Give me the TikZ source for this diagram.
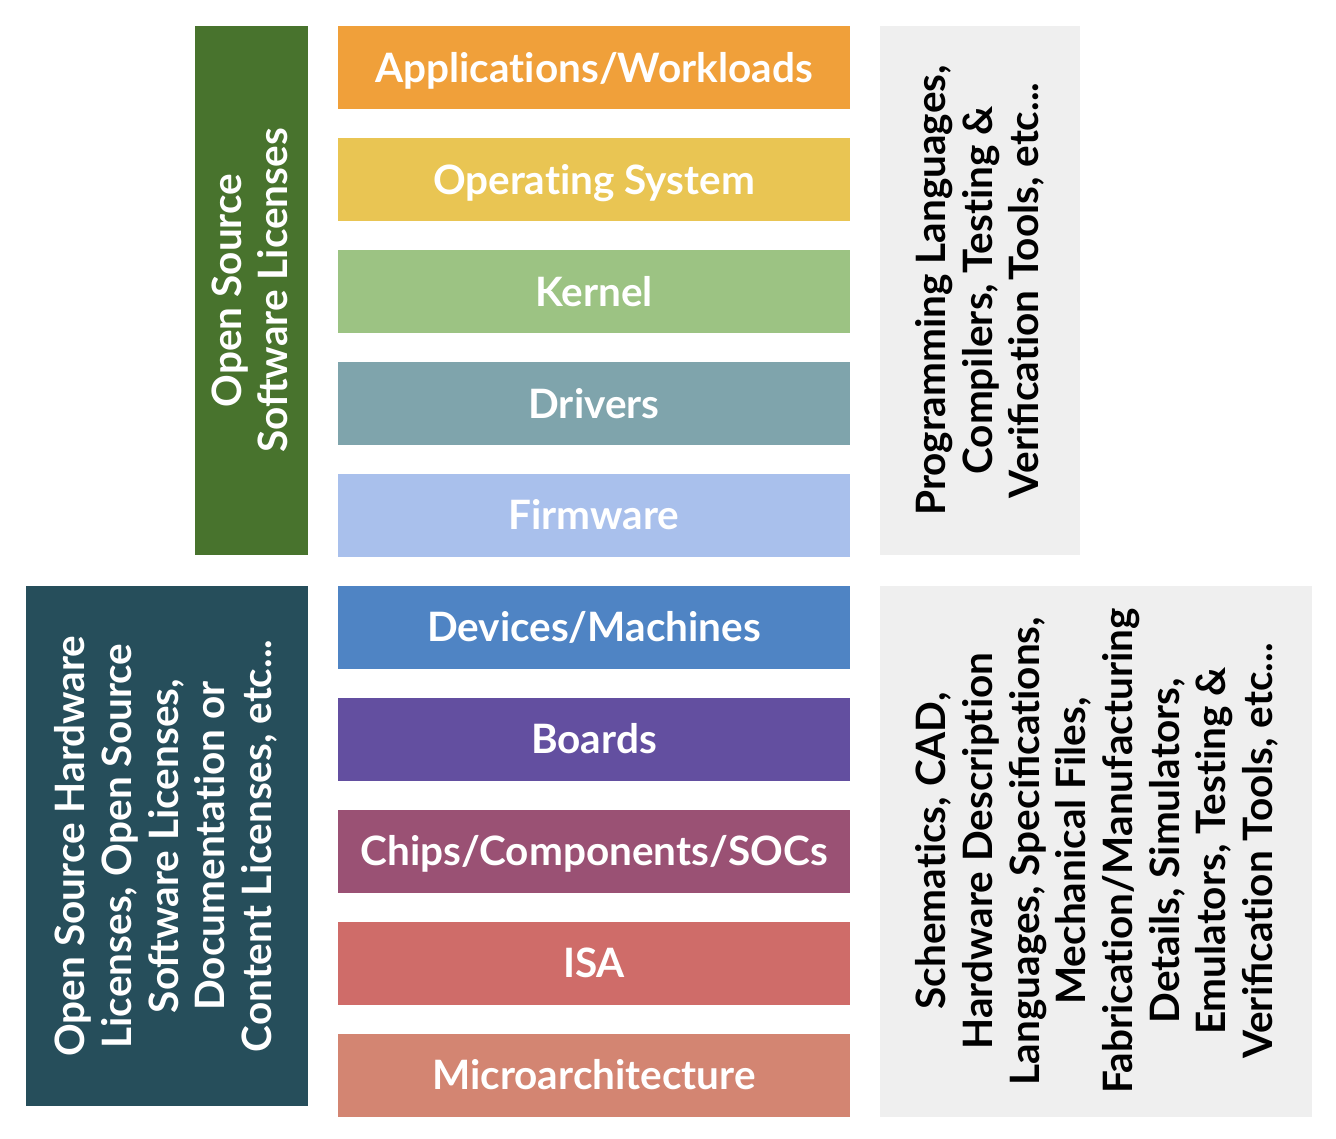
\documentclass[tikz,border=0pt]{standalone}
\usepackage{fontspec}
\setmainfont{Lato}
% t and i set as separate letters (no "ti" ligature); "fi" keeps its ligature
\newcommand\tI{t\kern0pt i}
\begin{document}
\begin{tikzpicture}[x=1pt,y=-1pt,
  layer/.style={rectangle,inner sep=0pt,minimum width=512pt,minimum height=83pt,
    text height=29pt,text depth=0pt,
    text=white,font=\fontsize{40.5}{46}\selectfont\bfseries},
  sidebox/.style={rectangle,inner sep=0pt,align=center,rotate=90,
    font=\fontsize{40.5}{46.7}\selectfont\bfseries}]
\definecolor{cApp}{HTML}{F0A03A}
\definecolor{cOS}{HTML}{E9C553}
\definecolor{cKer}{HTML}{9CC383}
\definecolor{cDrv}{HTML}{7FA4AC}
\definecolor{cFw}{HTML}{A9C0EC}
\definecolor{cDev}{HTML}{4F84C4}
\definecolor{cBrd}{HTML}{634FA0}
\definecolor{cChip}{HTML}{9A5174}
\definecolor{cIsa}{HTML}{CF6C69}
\definecolor{cUarch}{HTML}{D38572}
\definecolor{cSw}{HTML}{48732D}
\definecolor{cHw}{HTML}{264E5B}
\definecolor{cTool}{HTML}{EFEFEF}
\useasboundingbox (0,0) rectangle (1336,1138);
\fill[white] (0,0) rectangle (1336,1138);

% central stack of layers
\node[layer,fill=cApp]   (app)   at (594,67.5)   {Applica\tI ons/Workloads};
\node[layer,fill=cOS]    (os)    at (594,179.5)  {Opera\tI ng System};
\node[layer,fill=cKer]   (ker)   at (594,291.5)  {Kernel};
\node[layer,fill=cDrv]   (drv)   at (594,403.5)  {Drivers};
\node[layer,fill=cFw]    (fw)    at (594,515)    {Firmware};
\node[layer,fill=cDev]   (dev)   at (594,627)    {Devices/Machines};
\node[layer,fill=cBrd]   (brd)   at (594,739)    {Boards};
\node[layer,fill=cChip]  (chip)  at (594,851)    {Chips/Components/SOCs};
\node[layer,fill=cIsa]   (isa)   at (594,963)    {ISA};
\node[layer,fill=cUarch] (uarch) at (594,1075)   {Microarchitecture};

% licence boxes on the left
\fill[cSw] (195,26) rectangle (308,555);
\node[sidebox,text=white] (swlic) at (250,290.5)
  {Open Source\\Software Licenses};
\fill[cHw] (26,586) rectangle (308,1106);
\node[sidebox,text=white] (hwlic) at (166,846)
  {Open Source Hardware\\Licenses, Open Source\\Software Licenses,\\Documenta\tI on or\\Content Licenses, etc...};

% tool boxes on the right
\fill[cTool] (880,26) rectangle (1080,555);
\node[sidebox,text=black] (swtool) at (980,290.5)
  {Programming Languages,\\Compilers, Tes\tI ng \&\\Verifica\tI on Tools, etc...};
\fill[cTool] (880,586) rectangle (1312,1117);
\node[sidebox,text=black] (hwtool) at (1097,851)
  {Schema\tI cs, CAD,\\Hardware Descrip\tI on\\Languages, Specifica\tI ons,\\Mechanical Files,\\Fabrica\tI on/Manufacturing\\Details, Simulators,\\Emulators, Tes\tI ng \&\\Verifica\tI on Tools, etc...};
\end{tikzpicture}
\end{document}
